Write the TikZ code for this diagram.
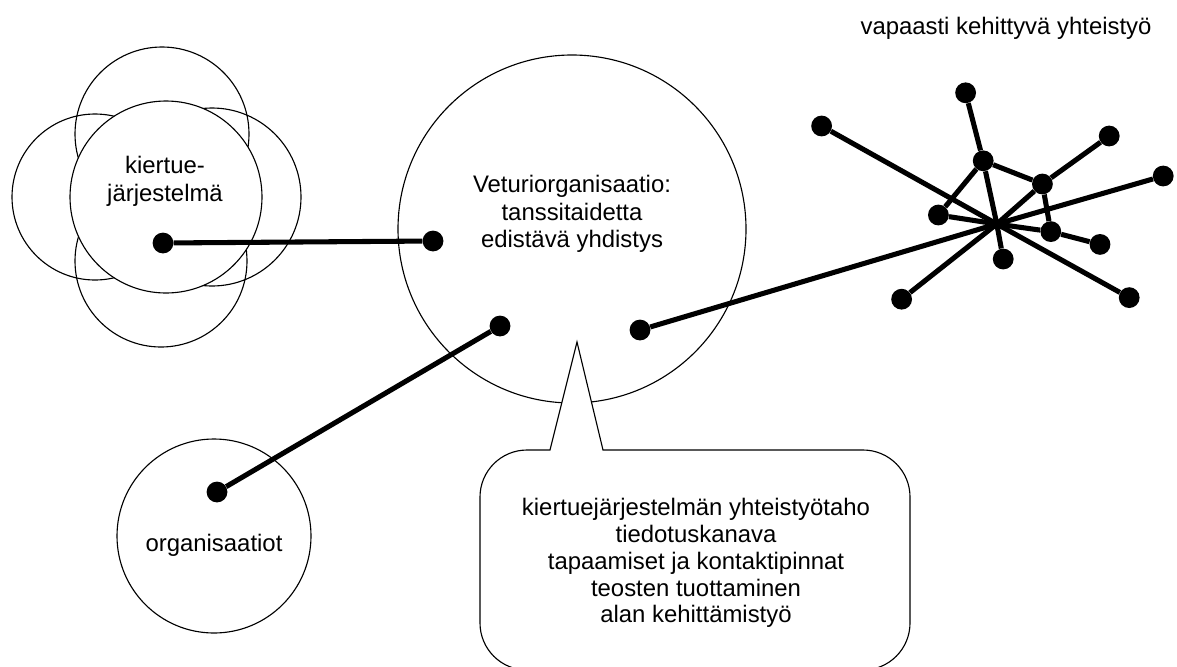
\documentclass[tikz,border=0pt]{standalone}
\usepackage{fontspec}
\setmainfont{Liberation Sans}
\usetikzlibrary{positioning}
\tikzset{
  ring/.style={line width=0.8pt},
  blob/.style={circle, fill=black, inner sep=0pt, minimum size=0.52cm},
  link/.style={line width=3.6pt},
  txt/.style={align=center, inner sep=0pt, font=\fontsize{17}{19.7}\selectfont}
}
\begin{document}
\begin{tikzpicture}
\useasboundingbox (0,0) rectangle (29.425,-16.65);
\draw[ring] (4.05,-3.35) circle (2.175);
\draw[ring] (2.375,-4.925) circle (2.075);
\draw[ring] (5.3,-4.925) circle (2.225);
\draw[ring] (4.025,-6.525) circle (2.15);
\draw[ring, fill=white] (4.15,-4.925) circle (2.4);
\draw[ring] (14.3,-5.725) circle (4.35);
\draw[ring] (5.35,-13.4) circle (2.425);
\draw[ring, fill=white] (13.75,-11.25) -- (14.425,-8.55) -- (15.075,-11.25) -- (21.575,-11.25) arc (90:0:1.175) -- (22.75,-15.575) arc (0:-90:1.175) -- (13.175,-16.75) arc (270:180:1.175) -- (12,-12.425) arc (180:90:1.175) -- cycle;
\node[txt] (kiertue) at (4.125,-4.525) {kiertue-\\järjestelmä};
\node[txt] (veturi) at (14.3,-5.35) {Veturiorganisaatio:\\tanssitaidetta\\edistävä yhdistys};
\node[txt] (organisaatiot) at (5.35,-13.625) {organisaatiot};
\node[txt, font=\fontsize{17}{19.1}\selectfont] (tehtavat) at (17.4,-14.075) {kiertuejärjestelmän yhteistyötaho\\tiedotuskanava\\tapaamiset ja kontaktipinnat\\teosten tuottaminen\\alan kehittämistyö};
\node[txt] (vapaa) at (25.15,-0.7) {vapaasti kehittyvä yhteistyö};
\node[blob] (k1) at (4.075,-6.075) {};
\node[blob] (v1) at (10.825,-6.025) {};
\node[blob] (v2) at (12.5,-8.15) {};
\node[blob] (v3) at (16,-8.25) {};
\node[blob] (o1) at (5.425,-12.3) {};
\coordinate (hub) at (24.92,-5.6);
\node[blob] (y1) at (24.14,-2.32) {};
\node[blob] (y2) at (20.54,-3.15) {};
\node[blob] (y3) at (27.73,-3.4) {};
\node[blob] (y4) at (24.58,-4.02) {};
\node[blob] (y5) at (26.06,-4.6) {};
\node[blob] (y6) at (29.08,-4.4) {};
\node[blob] (y7) at (23.46,-5.375) {};
\node[blob] (y8) at (26.27,-5.79) {};
\node[blob] (y9) at (27.5,-6.11) {};
\node[blob] (y10) at (25.08,-6.475) {};
\node[blob] (y11) at (22.54,-7.48) {};
\node[blob] (y12) at (28.23,-7.44) {};
\draw[link] (k1) -- (v1);
\draw[link] (v2) -- (o1);
\draw[link] (v3) -- (hub) -- (y6);
\draw[link] (y2) -- (hub) -- (y12);
\draw[link] (y1) -- (y4) -- (hub) -- (y10);
\draw[link] (y3) -- (y5) -- (hub) -- (y11);
\draw[link] (y7) -- (hub) -- (y8) -- (y9);
\draw[link] (y4) -- (y5) -- (y8);
\draw[link] (y4) -- (y7);
\end{tikzpicture}
\end{document}
